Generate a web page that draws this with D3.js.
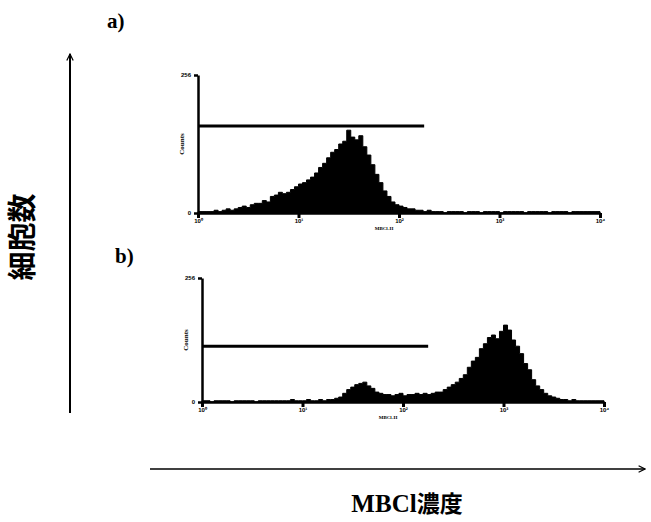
<!DOCTYPE html>
<html>
<head>
<meta charset="utf-8">
<script src="https://cdn.jsdelivr.net/npm/d3@7"></script>
<style>
  body { margin: 0; background: #fff; }
  svg { display: block; }
</style>
</head>
<body>
<script>
// decades of the log fluorescence axis
const decades = [1, 10, 100, 1000, 10000];
const yTicks = [0, 100];

// histogram a): 100 log bins over 10^0..10^4, counts as % of axis height
const countsA = [
  1, 1, 1, 1, 2, 1, 2, 3, 2, 3,
  4, 5, 4, 6, 7, 7, 9, 8, 12, 13,
  15, 14, 15, 17, 19, 21, 22, 24, 26, 29,
  33, 36, 40, 44, 46, 50, 52, 60, 55, 53,
  56, 48, 42, 35, 28, 22, 16, 12, 8, 6,
  5, 4, 3, 3, 2, 2, 1, 2, 1, 1,
  1, 0, 1, 1, 1, 1, 0, 1, 1, 1,
  0, 1, 1, 1, 1, 0, 1, 1, 1, 1,
  1, 0, 1, 1, 1, 1, 1, 0, 1, 1,
  1, 1, 0, 1, 1, 1, 1, 1, 1, 1
];

// histogram b)
const countsB = [
  1, 1, 0, 1, 1, 1, 1, 0, 1, 1,
  1, 1, 1, 0, 1, 1, 1, 1, 1, 1,
  1, 1, 2, 1, 1, 1, 2, 1, 1, 2,
  1, 2, 2, 3, 4, 7, 10, 12, 14, 15,
  16, 13, 11, 8, 7, 6, 6, 5, 6, 7,
  5, 6, 6, 7, 6, 7, 6, 7, 8, 8,
  10, 12, 14, 16, 19, 22, 28, 33, 36, 43,
  47, 52, 54, 51, 57, 62, 58, 50, 45, 39,
  31, 26, 18, 13, 10, 7, 5, 4, 3, 2,
  2, 1, 2, 1, 1, 1, 1, 1, 1, 1
];

// gate markers: [end value on x, level on y]
const gateA = [178, 63];
const gateB = [178, 45];

const W = 651, H = 522;
const svg = d3.select("body").append("svg")
  .attr("width", W).attr("height", H)
  .style("font-family", "'Liberation Serif', serif");

svg.append("rect").attr("width", W).attr("height", H).attr("fill", "#fff");

function panel(counts, gate, box) {
  const x = d3.scaleLog().domain([1, 10000]).range([box.x0, box.x1]);
  const y = d3.scaleLinear().domain([0, 100]).range([box.y0, box.y1]);
  const g = svg.append("g");

  const nb = counts.length;
  const bins = counts.map((c, i) => ({ lo: Math.pow(10, 4 * i / nb), c }));
  bins.push({ lo: 10000, c: counts[nb - 1] });

  const area = d3.area()
    .x(d => x(d.lo))
    .y0(y(0))
    .y1(d => y(d.c))
    .curve(d3.curveStepAfter);

  g.append("path").datum(bins)
    .attr("d", area)
    .attr("fill", "#000")
    .attr("stroke", "#000").attr("stroke-width", 1);

  // x axis
  const xa = g.append("g")
    .attr("transform", `translate(0,${y(0)})`)
    .call(d3.axisBottom(x).tickValues(decades).tickSize(5).tickSizeOuter(0)
      .tickFormat(d => "10" + "⁰¹²³⁴"[Math.round(Math.log10(d))]));
  xa.select(".domain").attr("stroke-width", 2.5);
  xa.selectAll(".tick line").attr("stroke-width", 3);
  xa.selectAll(".tick text").attr("font-size", 6).attr("font-weight", "bold").attr("dy", "0.3em");

  // y axis
  const ya = g.append("g")
    .attr("transform", `translate(${box.x0},0)`)
    .call(d3.axisLeft(y).tickValues(yTicks).tickSize(4).tickSizeOuter(0)
      .tickFormat(d => d === 0 ? "0" : "256"));
  ya.select(".domain").attr("stroke-width", 2.5);
  ya.selectAll(".tick line").attr("stroke-width", 2.5);
  ya.selectAll(".tick text").attr("font-size", 6).attr("font-weight", "bold");

  g.append("text")
    .attr("transform", `translate(${box.x0 - 14},${y(50)}) rotate(-90)`)
    .attr("text-anchor", "middle")
    .attr("font-size", 7).attr("font-weight", "bold")
    .text("Counts");

  g.append("text")
    .attr("x", x(100) - 15).attr("y", y(0) + 17)
    .attr("text-anchor", "middle")
    .attr("font-size", 5).attr("font-weight", "bold")
    .text("MBCl-H");

  // gate bar
  g.append("line")
    .attr("x1", x(1)).attr("x2", x(gate[0]))
    .attr("y1", y(gate[1])).attr("y2", y(gate[1]))
    .attr("stroke", "#000").attr("stroke-width", 3);
}

panel(countsA, gateA, { x0: 198, x1: 600, y0: 213, y1: 75 });
panel(countsB, gateB, { x0: 202, x1: 604, y0: 402, y1: 278 });

svg.append("text").attr("x", 107).attr("y", 28)
  .attr("font-size", 21).attr("font-weight", "bold").text("a)");
svg.append("text").attr("x", 115).attr("y", 263)
  .attr("font-size", 21).attr("font-weight", "bold").text("b)");

// overall axes arrows
const defs = svg.append("defs");
defs.append("marker").attr("id", "arr")
  .attr("viewBox", "0 0 10 10").attr("refX", 9).attr("refY", 5)
  .attr("markerWidth", 8).attr("markerHeight", 8)
  .attr("markerUnits", "userSpaceOnUse")
  .attr("orient", "auto")
  .append("path").attr("d", "M1,1 L9,5 L1,9")
  .attr("fill", "none").attr("stroke", "#000").attr("stroke-width", 1.5);

svg.append("line").attr("x1", 70).attr("y1", 413).attr("x2", 70).attr("y2", 54)
  .attr("stroke", "#000").attr("stroke-width", 2).attr("marker-end", "url(#arr)");
svg.append("line").attr("x1", 150).attr("y1", 469).attr("x2", 645).attr("y2", 469)
  .attr("stroke", "#000").attr("stroke-width", 1.6).attr("marker-end", "url(#arr)");

svg.append("text")
  .attr("transform", "translate(33,237) rotate(-90)")
  .attr("text-anchor", "middle")
  .attr("font-family", "'Noto Sans CJK JP', sans-serif")
  .attr("font-size", 29).attr("font-weight", "bold")
  .text("細胞数");

const xl = svg.append("text")
  .attr("x", 407).attr("y", 512)
  .attr("text-anchor", "middle")
  .attr("font-size", 25).attr("font-weight", "bold");
xl.append("tspan").text("MBCl");
xl.append("tspan").attr("font-family", "'Noto Sans CJK JP', sans-serif").attr("font-size", 23).text("濃度");
</script>
</body>
</html>
